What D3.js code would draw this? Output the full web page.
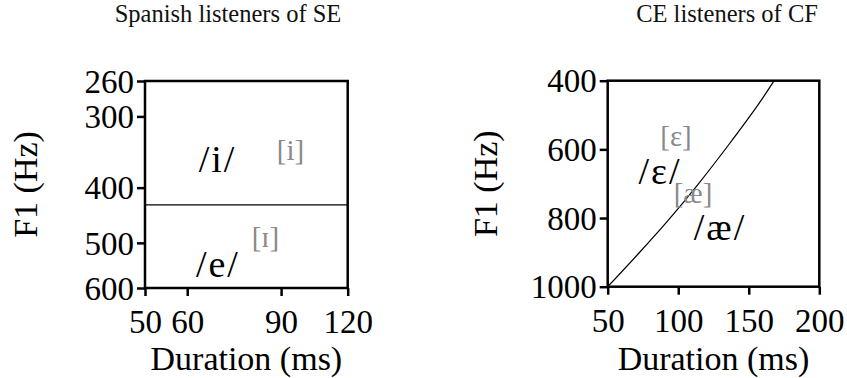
<!DOCTYPE html>
<html><head><meta charset="utf-8">
<script src="https://cdn.jsdelivr.net/npm/d3@7"></script>
<style>body{margin:0;background:#fff} svg, svg text{font-family:"Liberation Serif","Times New Roman",Times,"DejaVu Serif",serif;}</style>
</head><body>
<script>
// ---- data ----
const leftTitle = "Spanish listeners of SE";
const rightTitle = "CE listeners of CF";
const leftXTicks = [50, 60, 90, 120];
const leftYTicks = [260, 300, 400, 500, 600];
const rightXTicks = [50, 100, 150, 200];
const rightYTicks = [400, 600, 800, 1000];
const leftBoundaryF1 = 429; // horizontal category boundary (Hz)
// CE/CF boundary curve: [duration ms, F1 Hz]
const rightBoundary = [[50,1000],[71.7,904],[93,806],[114.2,701],[135.5,588],[156.8,469],[168,400]];
// labels: [text, duration, F1, kind]
const leftLabels = [["/i/",68.4,376,"resp"],["[i]",93.7,358,"stim"],["/e/",68.5,575,"resp"],["[\u026A]",84.1,508,"stim"]];
const rightLabels = [["[\u025B]",98.4,590,"stim"],["/\u025B/",87.1,701,"resp"],["[\u00E6]",110.5,756,"stim"],["/\u00E6/",129.6,864,"resp"]];

const W = 847, H = 378;
const svg = d3.select("body").append("svg").attr("width", W).attr("height", H);

function panel(opt) {
  const g = svg.append("g");
  const x = opt.x, y = opt.y;
  const [x0, x1] = x.range(), [y0, y1] = y.range();
  g.append("text").attr("x", opt.titleX).attr("y", 22).attr("text-anchor", "middle")
    .attr("font-size", 24.5).attr("fill", "#111").text(opt.title);
  if (opt.hline !== undefined) {
    g.append("line").attr("x1", x0).attr("x2", x1).attr("y1", y(opt.hline)).attr("y2", y(opt.hline))
      .attr("stroke", "#000").attr("stroke-width", 1.2);
  }
  if (opt.curve) {
    g.append("path").datum(opt.curve)
      .attr("d", d3.line().x(d => x(d[0])).y(d => y(d[1])).curve(d3.curveCatmullRom.alpha(0.5)))
      .attr("fill", "none").attr("stroke", "#000").attr("stroke-width", 1.2);
  }
  g.selectAll("text.lab").data(opt.labels).enter().append("text").attr("class", "lab")
    .attr("x", d => x(d[1])).attr("y", d => y(d[2])).attr("text-anchor", "middle")
    .attr("font-size", d => d[3] === "resp" ? 38 : 29)
    .attr("letter-spacing", d => d[3] === "resp" ? 2 : 0)
    .attr("fill", d => d[3] === "resp" ? "#000" : "#8a8a8a")
    .text(d => d[0]);
  const ax = g.append("g").attr("transform", `translate(0,${y0})`)
    .call(d3.axisBottom(x).tickValues(opt.xTicks).tickFormat(d3.format("d")).tickSize(8).tickSizeOuter(0));
  ax.attr("font-family", null);
  ax.selectAll("text").attr("y", 45).attr("dy", 0).attr("font-size", 33).attr("fill", "#000");
  const ay = g.append("g").attr("transform", `translate(${x0},0)`)
    .call(d3.axisLeft(y).tickValues(opt.yTicks).tickFormat(d3.format("d")).tickSize(8).tickSizeOuter(0));
  ay.attr("font-family", null);
  ay.selectAll("text").attr("x", -11).attr("dy", "0.34em").attr("font-size", 33).attr("fill", "#000");
  [ax, ay].forEach(a => { a.selectAll("line").attr("stroke-width", 2.5); a.select(".domain").remove(); });
  g.append("rect").attr("x", x0).attr("y", y1).attr("width", x1 - x0).attr("height", y0 - y1)
    .attr("fill", "none").attr("stroke", "#000").attr("stroke-width", 2.5);
  g.append("text").attr("x", (x0 + x1) / 2).attr("y", 370).attr("text-anchor", "middle")
    .attr("font-size", 34).text("Duration (ms)");
  g.append("text").attr("transform", `translate(${opt.yTitleX},${(y0 + y1) / 2}) rotate(-90)`)
    .attr("text-anchor", "middle").attr("font-size", 34).text("F1 (Hz)");
}

panel({
  title: leftTitle, titleX: 228,
  x: d3.scaleLog().domain([50, 120]).range([145, 347.7]),
  y: d3.scaleLog().domain([600, 260]).range([288, 81]),
  xTicks: leftXTicks, yTicks: leftYTicks, hline: leftBoundaryF1, labels: leftLabels, yTitleX: 37
});
panel({
  title: rightTitle, titleX: 727,
  x: d3.scaleLinear().domain([50, 200]).range([607.7, 819.3]),
  y: d3.scaleLinear().domain([1000, 400]).range([286.7, 80.7]),
  xTicks: rightXTicks, yTicks: rightYTicks, curve: rightBoundary, labels: rightLabels, yTitleX: 497
});
</script>
</body></html>
